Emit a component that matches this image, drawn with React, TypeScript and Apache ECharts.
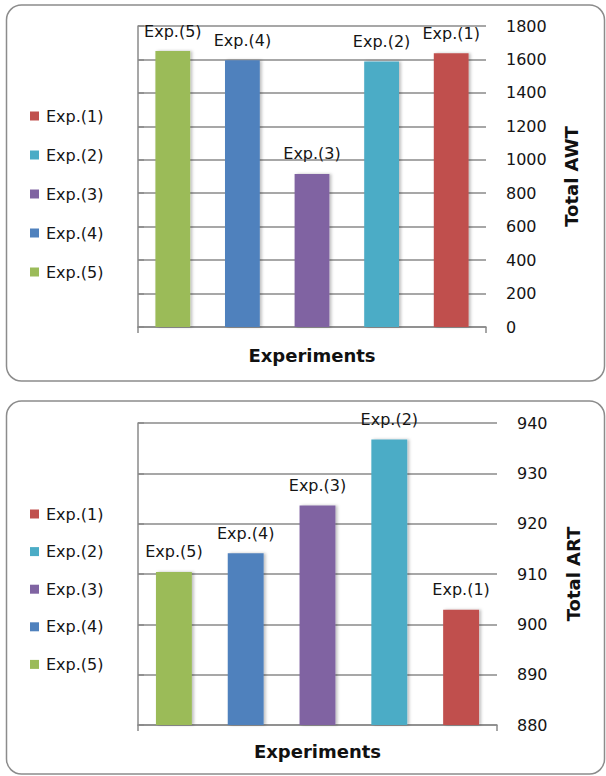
import React, { useEffect, useRef } from "react";
import * as echarts from "echarts";

const categories = ["Exp.(5)", "Exp.(4)", "Exp.(3)", "Exp.(2)", "Exp.(1)"];
const legendNames = ["Exp.(1)", "Exp.(2)", "Exp.(3)", "Exp.(4)", "Exp.(5)"];
const seriesColors = ["#C0504D", "#4BACC6", "#8064A2", "#4F81BD", "#9BBB59"];
// values in category order (Exp.(5) ... Exp.(1))
const awtValues = [1650, 1595, 915, 1588, 1637];
const artValues = [910.4, 914.1, 923.6, 936.7, 902.9];
const awtTicks = { min: 0, max: 1800, interval: 200 };
const artTicks = { min: 880, max: 940, interval: 10 };

const FONT = "DejaVu Sans";
const GRID_COLOR = "#8a8a8a";
const TEXT_COLOR = "#151515";

function buildSeries(values: number[], xIdx: number, yIdx: number) {
  return legendNames.map((name, k) => {
    const ci = categories.indexOf(name);
    return {
      type: "bar",
      name,
      xAxisIndex: xIdx,
      yAxisIndex: yIdx,
      barWidth: "50%",
      barGap: "-100%",
      data: categories.map((c, i) => (i === ci ? values[i] : "-")),
      itemStyle: {
        color: seriesColors[k],
        shadowColor: "rgba(0,0,0,0.25)",
        shadowBlur: 3,
        shadowOffsetX: 2,
        shadowOffsetY: 0,
      },
      label: {
        show: true,
        position: "top",
        distance: 12,
        formatter: "{a}",
        fontFamily: FONT,
        fontSize: 16,
        color: TEXT_COLOR,
      },
    };
  });
}

function catAxis(gridIndex: number, nameGap: number) {
  return {
    type: "category",
    gridIndex,
    data: categories,
    name: "Experiments",
    nameLocation: "middle",
    nameGap,
    nameTextStyle: { fontFamily: FONT, fontSize: 18, fontWeight: "bold", color: "#111" },
    axisLine: { show: true, lineStyle: { color: GRID_COLOR, width: 1.5 } },
    axisTick: { show: false },
    axisLabel: { show: false },
    splitLine: { show: false },
  };
}

function tickAxis(gridIndex: number) {
  return {
    type: "value",
    gridIndex,
    position: "bottom",
    min: 0,
    max: 1,
    interval: 1,
    axisLine: { show: false },
    axisTick: { show: true, length: 6, lineStyle: { color: GRID_COLOR, width: 1.5 } },
    axisLabel: { show: false },
    splitLine: { show: false },
  };
}

function valAxis(gridIndex: number, t: { min: number; max: number; interval: number }, name: string, nameGap: number) {
  return {
    type: "value",
    gridIndex,
    position: "right",
    min: t.min,
    max: t.max,
    interval: t.interval,
    name,
    nameLocation: "middle",
    nameRotate: 90,
    nameGap,
    nameTextStyle: { fontFamily: FONT, fontSize: 18, fontWeight: "bold", color: "#111" },
    axisLine: { show: true, lineStyle: { color: GRID_COLOR, width: 1.5 } },
    axisTick: { show: true, length: 6, lineStyle: { color: GRID_COLOR, width: 1.5 } },
    axisLabel: {
      margin: 20,
      fontFamily: FONT,
      fontSize: 16,
      color: TEXT_COLOR,
      formatter: (v: number) => String(v),
    },
    splitLine: { show: true, lineStyle: { color: GRID_COLOR, width: 1.5 } },
  };
}

function legend(top: number, itemGap: number) {
  return {
    orient: "vertical",
    left: 30,
    top,
    padding: 0,
    itemWidth: 9,
    itemHeight: 9,
    itemGap,
    icon: "rect",
    data: legendNames,
    textStyle: { fontFamily: FONT, fontSize: 16, color: TEXT_COLOR, padding: [0, 0, 0, 2] },
  };
}

export default function App() {
  const ref = useRef<HTMLDivElement>(null);
  useEffect(() => {
    if (!ref.current) return;
    const chart = echarts.init(ref.current, null, { renderer: "svg" });
    chart.setOption({
      animation: false,
      backgroundColor: "#ffffff",
      graphic: [
        {
          type: "rect",
          shape: { x: 6.5, y: 5, width: 598, height: 376, r: 15 },
          style: { fill: "none", stroke: "#8c8c8c", lineWidth: 1.5 },
          z: -1,
        },
        {
          type: "rect",
          shape: { x: 6.5, y: 401, width: 598, height: 373, r: 15 },
          style: { fill: "none", stroke: "#8c8c8c", lineWidth: 1.5 },
          z: -1,
        },
      ],
      legend: [legend(108, 23), legend(506, 21.6)],
      grid: [
        { left: 138, right: 120, top: 26, height: 301 },
        { left: 138, right: 109, top: 423, height: 302 },
      ],
      xAxis: [catAxis(0, 19), tickAxis(0), catAxis(1, 17), tickAxis(1)],
      yAxis: [valAxis(0, awtTicks, "Total AWT", 76), valAxis(1, artTicks, "Total ART", 67)],
      series: [...buildSeries(awtValues, 0, 0), ...buildSeries(artValues, 2, 1)],
    });
    return () => chart.dispose();
  }, []);
  return (
    <div
      ref={ref}
      style={{ position: "fixed", left: 0, top: 0, width: 606, height: 776 }}
    />
  );
}
